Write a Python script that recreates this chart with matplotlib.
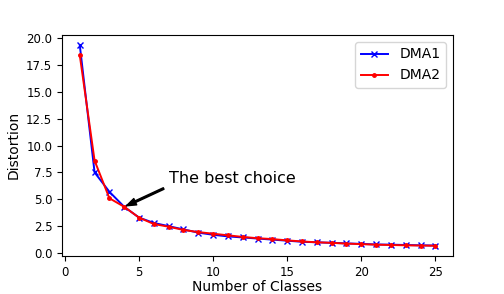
import numpy as np
import matplotlib.pyplot as plt

classes = list(range(1, 26))
dma1 = [19.35, 7.5, 5.7, 4.3, 3.3, 2.8, 2.5, 2.2, 1.9, 1.7, 1.55, 1.45, 1.35,
        1.25, 1.15, 1.05, 1.0, 0.95, 0.9, 0.85, 0.8, 0.78, 0.75, 0.72, 0.7]
dma2 = [18.4, 8.6, 5.1, 4.3, 3.3, 2.7, 2.45, 2.15, 1.95, 1.8, 1.65, 1.5, 1.38,
        1.3, 1.18, 1.08, 1.0, 0.95, 0.88, 0.83, 0.78, 0.75, 0.72, 0.7, 0.68]

fig = plt.figure(figsize=(5.04, 2.94), dpi=100)
ax = fig.add_axes([0.123, 0.13, 0.776, 0.751])
ax.plot(classes, dma1, 'bx-', label='DMA1', lw=1.4, ms=5)
ax.plot(classes, dma2, 'r.-', label='DMA2', lw=1.4, ms=5)
ax.annotate('The best choice', xy=(4, 4.3), xytext=(7, 6.5), fontsize=11.5,
            arrowprops=dict(facecolor='black', shrink=0.05, width=1.2, headwidth=5, headlength=7))
ax.set_xlabel('Number of Classes', fontsize=10, labelpad=1)
ax.set_ylabel('Distortion', fontsize=10)
ax.tick_params(labelsize=8.5)
ax.legend(fontsize=10)
fig.savefig('out.png')
